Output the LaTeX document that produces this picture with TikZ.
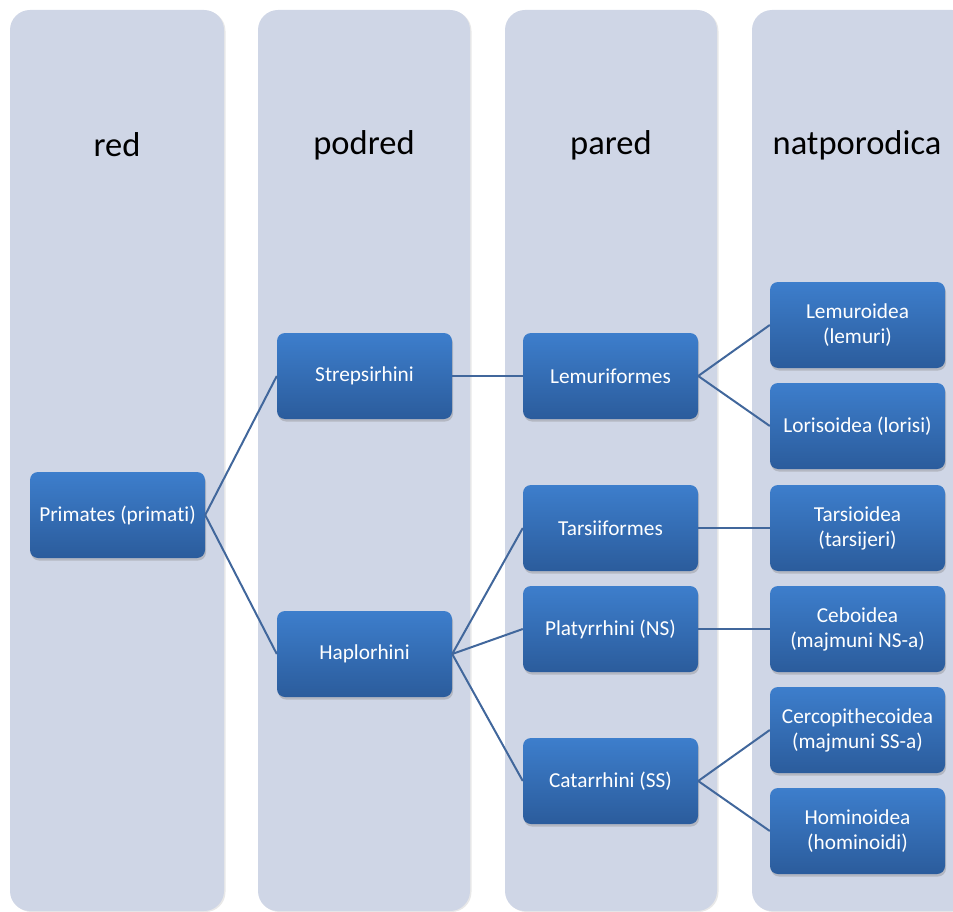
\documentclass[tikz,border=0pt]{standalone}
\usepackage{fontspec}
\setmainfont{Carlito}[Ligatures=NoCommon]
\usetikzlibrary{shadows}
\definecolor{colbg}{HTML}{CFD6E6}
\definecolor{boxtop}{HTML}{3D7ECC}
\definecolor{boxbot}{HTML}{2B5C9C}
\definecolor{linec}{HTML}{41679C}
\tikzset{
  colbox/.style={fill=colbg, rounded corners=20pt, drop shadow={opacity=0.18, shadow xshift=1.5pt, shadow yshift=-1pt}},
  hdr/.style={font=\fontsize{34.5}{40}\selectfont, text=black},
  taxon/.style={rectangle, rounded corners=8pt, minimum width=175pt, minimum height=86pt,
    top color=boxtop, bottom color=boxbot, text=white, align=center, inner sep=2pt,
    font=\fontsize{21.3}{25}\selectfont,
    drop shadow={opacity=0.35, shadow xshift=1pt, shadow yshift=-2.5pt}},
  link/.style={draw=linec, line width=2pt}
}
\begin{document}
\begin{tikzpicture}[x=1pt,y=-1pt]
\useasboundingbox (0,0) rectangle (953,912);
\begin{scope}
\clip (0,0) rectangle (953,912);
\path[colbox] (10,10) rectangle (224,911);
\path[colbox] (258,10) rectangle (470,911);
\path[colbox] (505,10) rectangle (717,911);
\path[colbox] (752,10) rectangle (972,911);
\node[hdr] (h1) at (117,145) {red};
\node[hdr] (h2) at (364,145) {podred};
\node[hdr] (h3) at (611,145) {pared};
\node[hdr] (h4) at (857,145) {natporodica};

\node[taxon] (prim) at (117.5,515) {Primates (primati)};
\node[taxon] (strep) at (364.5,376) {Strepsirhini};
\node[taxon] (hapl) at (364.5,654) {Haplorhini};
\node[taxon] (lemf) at (610.5,376) {Lemuriformes};
\node[taxon] (tarf) at (610.5,528) {Tarsiiformes};
\node[taxon] (plat) at (610.5,629) {Platyrrhini (NS)};
\node[taxon] (cata) at (610.5,781) {Catarrhini (SS)};
\node[taxon] (lemo) at (857.5,325) {Lemuroidea\\(lemuri)};
\node[taxon] (loro) at (857.5,426) {Lorisoidea (lorisi)};
\node[taxon] (taro) at (857.5,528) {Tarsioidea\\(tarsijeri)};
\node[taxon] (cebo) at (857.5,629) {Ceboidea\\(majmuni NS-a)};
\node[taxon] (cerc) at (857.5,730) {Cercopithecoidea\\(majmuni SS-a)};
\node[taxon] (homi) at (857.5,831) {Hominoidea\\(hominoidi)};

\draw[link] (prim.east) -- (strep.west);
\draw[link] (prim.east) -- (hapl.west);
\draw[link] (strep.east) -- (lemf.west);
\draw[link] (hapl.east) -- (tarf.west);
\draw[link] (hapl.east) -- (plat.west);
\draw[link] (hapl.east) -- (cata.west);
\draw[link] (lemf.east) -- (lemo.west);
\draw[link] (lemf.east) -- (loro.west);
\draw[link] (tarf.east) -- (taro.west);
\draw[link] (plat.east) -- (cebo.west);
\draw[link] (cata.east) -- (cerc.west);
\draw[link] (cata.east) -- (homi.west);
\end{scope}
\end{tikzpicture}
\end{document}
